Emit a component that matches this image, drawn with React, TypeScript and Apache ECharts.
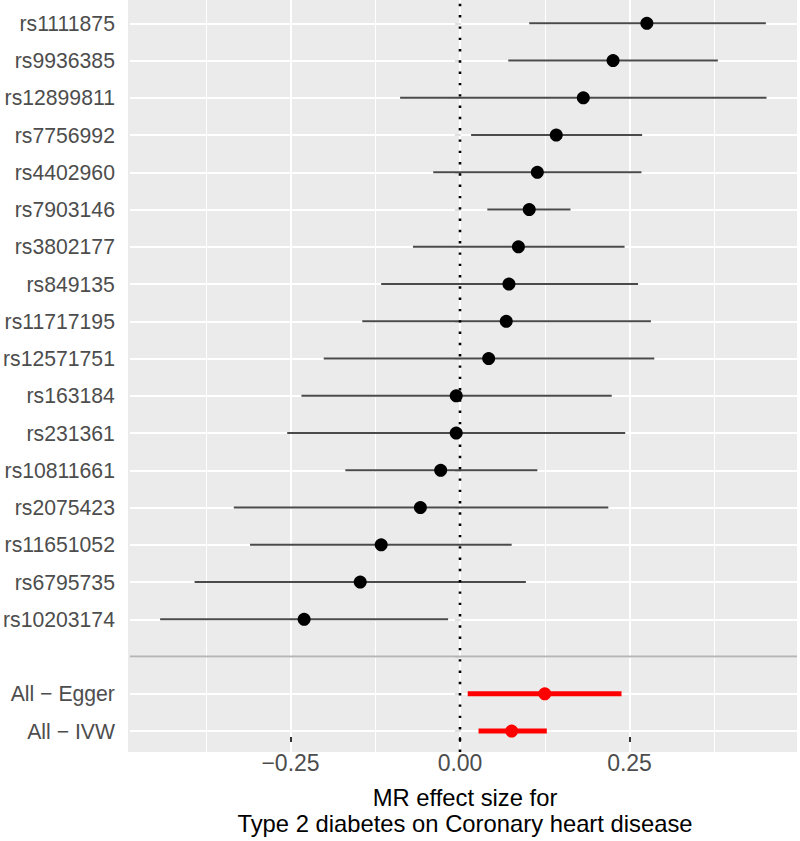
import React, { useEffect, useRef } from 'react';
import * as echarts from 'echarts';

const snpNames = [
  'rs1111875', 'rs9936385', 'rs12899811', 'rs7756992', 'rs4402960', 'rs7903146',
  'rs3802177', 'rs849135', 'rs11717195', 'rs12571751', 'rs163184', 'rs231361',
  'rs10811661', 'rs2075423', 'rs11651052', 'rs6795735', 'rs10203174',
];
const snpEst = [0.275, 0.225, 0.181, 0.141, 0.113, 0.101, 0.085, 0.071, 0.067, 0.041, -0.007, -0.007, -0.030, -0.060, -0.118, -0.149, -0.232];
const snpLo = [0.101, 0.070, -0.090, 0.015, -0.041, 0.039, -0.071, -0.118, -0.146, -0.203, -0.236, -0.257, -0.171, -0.336, -0.312, -0.394, -0.445];
const snpHi = [0.451, 0.380, 0.452, 0.268, 0.267, 0.162, 0.242, 0.262, 0.281, 0.286, 0.223, 0.243, 0.113, 0.218, 0.075, 0.096, -0.019];

const summaryNames = ['All \u2212 Egger', 'All \u2212 IVW'];
const summaryEst = [0.124, 0.075];
const summaryLo = [0.010, 0.026];
const summaryHi = [0.2375, 0.127];

const xTitle = 'MR effect size for\nType 2 diabetes on Coronary heart disease';

const FONT = 'Liberation Sans, Arial, sans-serif';

export default function App() {
  const ref = useRef<HTMLDivElement>(null);

  useEffect(() => {
    const chart = echarts.init(ref.current as HTMLDivElement, null, { renderer: 'svg' });
    const categories = [...snpNames, '', ...summaryNames];
    const sepIndex = snpNames.length;
    const dataMin = -0.4897;
    const dataMax = 0.4971;
    const snpBars = snpNames.map((_, i) => [snpLo[i], snpHi[i], i]);
    const snpPoints = snpNames.map((_, i) => [snpEst[i], i]);
    const sumBars = summaryNames.map((_, i) => [summaryLo[i], summaryHi[i], sepIndex + 1 + i]);
    const sumPoints = summaryNames.map((_, i) => [summaryEst[i], sepIndex + 1 + i]);

    const barRender = (color: string, width: number) => (_p: any, api: any) => {
      const y = api.value(2);
      const p1 = api.coord([api.value(0), y]);
      const p2 = api.coord([api.value(1), y]);
      return {
        type: 'line',
        shape: { x1: p1[0], y1: p1[1], x2: p2[0], y2: p2[1] },
        style: { stroke: color, lineWidth: width, lineCap: 'butt' },
      };
    };

    const fmt = (v: number) => {
      const s = Math.abs(v).toFixed(2);
      return v < 0 ? '\u2212' + s : s;
    };

    chart.setOption({
      animation: false,
      graphic: [
        {
          type: 'rect',
          z: -10,
          silent: true,
          shape: { x: 128, y: 0, width: 669, height: 752 },
          style: { fill: '#EBEBEB' },
        },
      ],
      grid: [
        { left: 121, width: 678, top: 0, height: 752 },
        { left: 128, width: 669, top: 23.3, height: 707.75 },
        { left: 290.5, width: 339, top: 0, height: 752 },
      ],
      xAxis: [
        {
          gridIndex: 0,
          type: 'value',
          min: -0.5,
          max: 0.5,
          interval: 0.25,
          axisLine: { show: false },
          axisTick: { show: false },
          axisLabel: { show: false },
          splitLine: { show: true, lineStyle: { color: '#FFFFFF', width: 2 } },
          minorTick: { show: false, splitNumber: 2 },
          minorSplitLine: { show: true, lineStyle: { color: '#FFFFFF', width: 1 } },
        },
        {
          gridIndex: 1,
          type: 'value',
          min: dataMin,
          max: dataMax,
          show: false,
          splitLine: { show: false },
        },
        {
          gridIndex: 2,
          type: 'value',
          min: -0.25,
          max: 0.25,
          interval: 0.25,
          axisLine: { show: false },
          axisTick: { show: true, length: 5, lineStyle: { color: '#333333', width: 2 } },
          axisLabel: {
            formatter: fmt,
            fontSize: 23,
            color: '#4D4D4D',
            fontFamily: FONT,
            margin: 14,
          },
          splitLine: { show: false },
          name: xTitle,
          nameLocation: 'middle',
          nameGap: 47,
          nameTextStyle: {
            fontSize: 23.8,
            color: '#000000',
            lineHeight: 26,
            fontFamily: FONT,
            padding: [0, 0, 0, 10],
          },
        },
      ],
      yAxis: [
        { gridIndex: 0, type: 'value', min: 0, max: 1, show: false, splitLine: { show: false } },
        {
          gridIndex: 1,
          type: 'category',
          data: categories,
          inverse: true,
          boundaryGap: false,
          axisLine: { show: false },
          axisTick: { show: true, interval: 0, length: 6, lineStyle: { color: '#D4D4D4', width: 1.5 } },
          axisLabel: {
            interval: 0,
            fontSize: 21.2,
            color: '#4D4D4D',
            margin: 15,
            fontFamily: FONT,
          },
          splitLine: { show: true, interval: 0, lineStyle: { color: '#FFFFFF', width: 2 } },
        },
        { gridIndex: 2, type: 'value', min: 0, max: 1, show: false, splitLine: { show: false } },
      ],
      series: [
        {
          type: 'line',
          xAxisIndex: 1,
          yAxisIndex: 1,
          data: [[dataMin, sepIndex], [dataMax, sepIndex]],
          symbol: 'none',
          silent: true,
          lineStyle: { color: '#B5B5B5', width: 2 },
        },
        {
          type: 'line',
          xAxisIndex: 0,
          yAxisIndex: 0,
          data: [[0, 0], [0, 1]],
          symbol: 'none',
          silent: true,
          lineStyle: { color: '#000000', type: [2.4, 8.9], width: 2.6, cap: 'butt' },
        },
        {
          type: 'custom',
          xAxisIndex: 1,
          yAxisIndex: 1,
          data: snpBars,
          encode: { x: [0, 1], y: 2 },
          renderItem: barRender('#4A4A4A', 2),
          silent: true,
        },
        {
          type: 'custom',
          xAxisIndex: 1,
          yAxisIndex: 1,
          data: sumBars,
          encode: { x: [0, 1], y: 2 },
          renderItem: barRender('#FF0000', 5),
          silent: true,
        },
        {
          type: 'scatter',
          xAxisIndex: 1,
          yAxisIndex: 1,
          data: snpPoints,
          symbol: 'circle',
          symbolSize: 13,
          itemStyle: { color: '#000000', opacity: 1 },
          silent: true,
        },
        {
          type: 'scatter',
          xAxisIndex: 1,
          yAxisIndex: 1,
          data: sumPoints,
          symbol: 'circle',
          symbolSize: 13,
          itemStyle: { color: '#FF0000', opacity: 1 },
          silent: true,
        },
      ],
    });

    return () => {
      chart.dispose();
    };
  }, []);

  return (
    <div
      ref={ref}
      style={{ position: 'fixed', left: 0, top: 0, width: 800, height: 841, background: '#FFFFFF' }}
    />
  );
}
